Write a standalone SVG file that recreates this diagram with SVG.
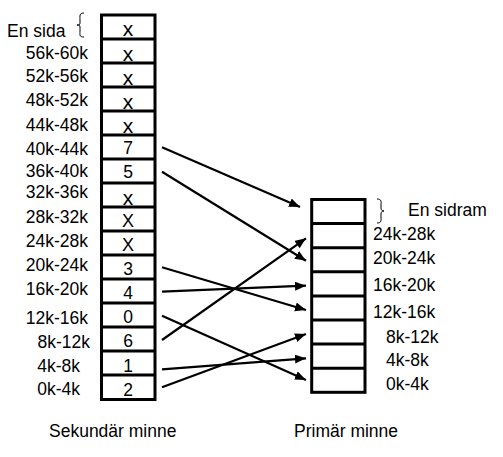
<svg xmlns="http://www.w3.org/2000/svg" width="503" height="457" viewBox="0 0 503 457">
<style>
text{font-family:"Liberation Sans",Arial,sans-serif;font-size:17.5px;fill:#000}
.c{text-anchor:middle}
.e{text-anchor:end}
.lx{font-size:21px}
.box{fill:#fff;stroke:#000;stroke-width:3}
.sep{stroke:#000;stroke-width:3}
.br{fill:none;stroke:#000;stroke-width:1}
.ar{stroke:#000;stroke-width:2.2;fill:none;marker-end:url(#ah)}
</style>
<defs>
<marker id="ah" markerUnits="userSpaceOnUse" markerWidth="12" markerHeight="10" refX="11" refY="4.5" orient="auto">
<path d="M0,0 L11,4.5 L0,9 Z" fill="#000"/>
</marker>
</defs>
<rect width="503" height="457" fill="#fff"/>

<g id="secondary">
<rect class="box" x="101.5" y="15" width="53.5" height="384.5"/>
<g class="sep">
<line x1="101.5" y1="39" x2="155" y2="39"/>
<line x1="101.5" y1="63" x2="155" y2="63"/>
<line x1="101.5" y1="87" x2="155" y2="87"/>
<line x1="101.5" y1="111" x2="155" y2="111"/>
<line x1="101.5" y1="135" x2="155" y2="135"/>
<line x1="101.5" y1="159" x2="155" y2="159"/>
<line x1="101.5" y1="183" x2="155" y2="183"/>
<line x1="101.5" y1="207" x2="155" y2="207"/>
<line x1="101.5" y1="231" x2="155" y2="231"/>
<line x1="101.5" y1="255" x2="155" y2="255"/>
<line x1="101.5" y1="279" x2="155" y2="279"/>
<line x1="101.5" y1="303" x2="155" y2="303"/>
<line x1="101.5" y1="327" x2="155" y2="327"/>
<line x1="101.5" y1="351" x2="155" y2="351"/>
<line x1="101.5" y1="375" x2="155" y2="375"/>
</g>
<text class="c lx" x="128" y="36">x</text>
<text class="c lx" x="128" y="61">x</text>
<text class="c lx" x="128" y="85">x</text>
<text class="c lx" x="128" y="109">x</text>
<text class="c lx" x="128" y="133">x</text>
<text class="c" x="128" y="154">7</text>
<text class="c" x="128" y="178">5</text>
<text class="c lx" x="128" y="205">x</text>
<text class="c" x="128" y="227" style="font-size:18px">X</text>
<text class="c" x="128" y="251" style="font-size:18px">X</text>
<text class="c" x="128" y="275">3</text>
<text class="c" x="128" y="299">4</text>
<text class="c" x="128" y="323">0</text>
<text class="c" x="128" y="347">6</text>
<text class="c" x="128" y="372">1</text>
<text class="c" x="128" y="396">2</text>
</g>

<g id="secondary-labels">
<text x="7" y="37">En sida</text>
<path class="br" d="M84,13 C79,13 80,16 80,20 L80,23 C80,25 79,25 77,25 C79,25 80,25 80,27 L80,31 C80,35 79,37 84,37"/>
<text class="e" x="88" y="58.5">56k-60k</text>
<text class="e" x="88" y="82">52k-56k</text>
<text class="e" x="88" y="106">48k-52k</text>
<text class="e" x="88" y="130.5">44k-48k</text>
<text class="e" x="88" y="154.5">40k-44k</text>
<text class="e" x="88" y="177">36k-40k</text>
<text class="e" x="88" y="198">32k-36k</text>
<text class="e" x="88" y="223">28k-32k</text>
<text class="e" x="88" y="247">24k-28k</text>
<text class="e" x="88" y="271">20k-24k</text>
<text class="e" x="88" y="295">16k-20k</text>
<text class="e" x="88" y="324">12k-16k</text>
<text class="e" x="90" y="348">8k-12k</text>
<text class="e" x="80" y="372">4k-8k</text>
<text class="e" x="80" y="395">0k-4k</text>
</g>

<g id="primary">
<rect class="box" x="311.7" y="199.5" width="53.3" height="192.8"/>
<g class="sep">
<line x1="311.7" y1="223.6" x2="365" y2="223.6"/>
<line x1="311.7" y1="247.7" x2="365" y2="247.7"/>
<line x1="311.7" y1="271.8" x2="365" y2="271.8"/>
<line x1="311.7" y1="295.9" x2="365" y2="295.9"/>
<line x1="311.7" y1="320" x2="365" y2="320"/>
<line x1="311.7" y1="344.1" x2="365" y2="344.1"/>
<line x1="311.7" y1="368.2" x2="365" y2="368.2"/>
</g>
</g>

<g id="primary-labels">
<path class="br" d="M377,199 C382,199 381,202 381,205 L381,208 C381,210 382,211 384,211 C382,211 381,212 381,214 L381,217 C381,220 382,223 377,223"/>
<text x="408" y="216">En sidram</text>
<text x="373" y="240">24k-28k</text>
<text x="373" y="264">20k-24k</text>
<text x="373" y="291">16k-20k</text>
<text x="373" y="318">12k-16k</text>
<text x="386" y="343">8k-12k</text>
<text x="386" y="366">4k-8k</text>
<text x="386" y="390">0k-4k</text>
</g>

<g id="connectors">
<line class="ar" x1="162" y1="147.3" x2="300" y2="207"/>
<line class="ar" x1="162" y1="171.7" x2="306" y2="260.7"/>
<line class="ar" x1="162" y1="267.3" x2="306" y2="310"/>
<line class="ar" x1="162" y1="291.7" x2="306" y2="285.7"/>
<line class="ar" x1="162" y1="315.7" x2="306" y2="380"/>
<line class="ar" x1="162" y1="340" x2="306" y2="238.3"/>
<line class="ar" x1="162" y1="369.3" x2="306" y2="358.3"/>
<line class="ar" x1="162" y1="387.3" x2="306" y2="334"/>
</g>

<g id="captions">
<text x="49" y="437">Sekundär minne</text>
<text x="294" y="437">Primär minne</text>
</g>
</svg>
